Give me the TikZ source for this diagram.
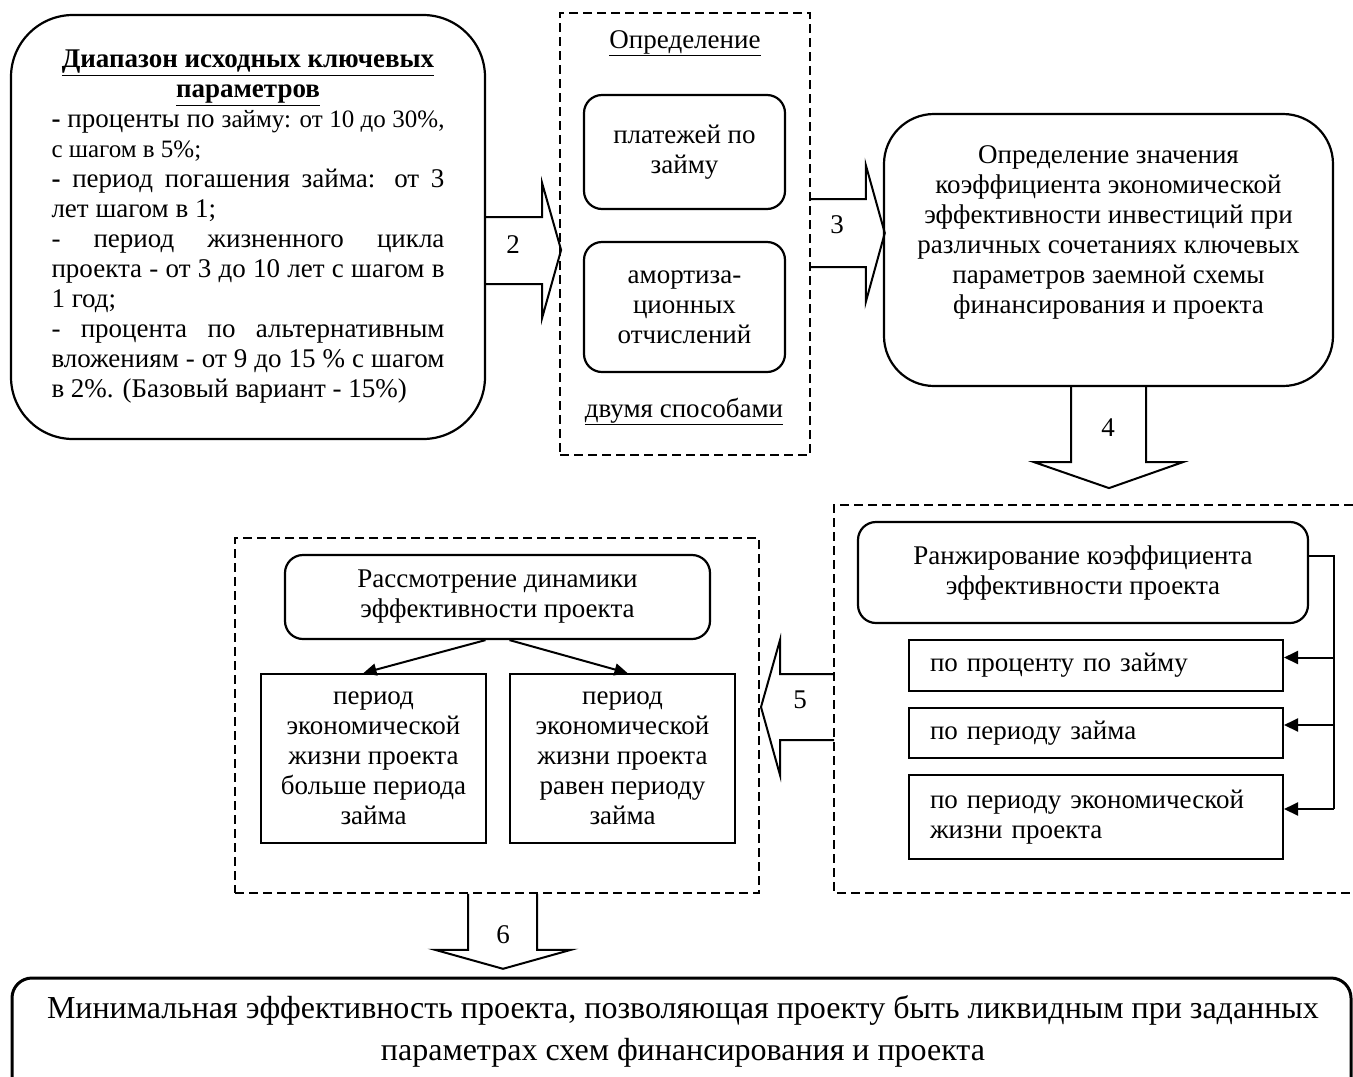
\documentclass[tikz,border=0pt]{standalone}
\usepackage{fontspec}
\setmainfont{Liberation Serif}
\usetikzlibrary{arrows.meta}

\newcommand{\fullline}[1]{\hbox to\linewidth{#1}}
\newcommand{\smallpart}[1]{{\fontsize{25}{30}\selectfont #1}}

\begin{document}
\begin{tikzpicture}[x=1pt, y=-1pt,
    % Define the styles for boxes, frames and arrows
    every node/.style={font=\fontsize{27}{30}\selectfont},
    roundbox/.style={draw, line width=2.2pt, rounded corners=18pt, inner sep=0pt},
    plainbox/.style={draw, line width=2pt, inner sep=0pt},
    dashframe/.style={draw, line width=1.6pt, dash pattern=on 9pt off 5pt},
    blockarrow/.style={draw, line width=2pt, line join=miter},
    wire/.style={line width=2pt},
    numlabel/.style={inner sep=0pt}
]
\useasboundingbox (0,0) rectangle (1353,1077);

% Range of key parameters
\node[roundbox, rounded corners=62pt, minimum width=474pt, minimum height=424pt,
      text width=393pt, align=justify] (params) at (248,227) {%
  {\centering\bfseries\underline{Диапазон исходных ключевых}\\\underline{параметров}\par}
  \fullline{\textbf{-} проценты по \smallpart{займу: от 10 до 30\%,}}
  \hbox{\smallpart{с шагом в 5\%;}}
  \fullline{\textbf{-} период погашения займа: от 3}
  \hbox{лет шагом в 1;}
  \fullline{- период жизненного цикла}
  \fullline{проекта - от 3 до 10 лет с шагом в}
  \hbox{1 год;}
  \fullline{- процента по альтернативным}
  \fullline{вложениям - от 9 до 15 \% с шагом}
  \hbox{в 2\%. (Базовый вариант - 15\%)}};

% Two ways of determination
\node[dashframe, minimum width=250pt, minimum height=442pt] (methods) at (685,234) {};
\node[anchor=base] (methodstitle) at (685,48) {\underline{Определение}};
\node[roundbox, minimum width=201pt, minimum height=114pt, align=center] (payments) at (684.5,152) {платежей по\\займу};
\node[roundbox, minimum width=201pt, minimum height=130pt, align=center] (deprec) at (684.5,307) {амортиза-\\ционных\\отчислений};
\node[anchor=base] (methodsnote) at (684,417) {\underline{двумя способами}};

% Coefficient of efficiency
\node[roundbox, rounded corners=50pt, minimum width=449pt, minimum height=272pt] (coef) at (1108.5,250) {};
\node[align=center] (coeftext) at (1108.5,232) {Определение значения\\коэффициента экономической\\эффективности инвестиций при\\различных сочетаниях ключевых\\параметров заемной схемы\\финансирования и проекта};

% Ranking
\draw[dashframe] (1353,505) -| (834,893) -- (1353,893);
\coordinate (rankframe) at (834,707);
\node[roundbox, minimum width=450pt, minimum height=101pt, align=center] (rank) at (1083,572.5) {Ранжирование коэффициента\\эффективности проекта};
\node[plainbox, minimum width=374pt, minimum height=51pt, text width=332pt, inner xsep=21pt, align=left] (crit1) at (1096,665.5) {по проценту по займу};
\node[plainbox, minimum width=374pt, minimum height=50pt, text width=332pt, inner xsep=21pt, align=left] (crit2) at (1096,733) {по периоду займа};
\node[plainbox, minimum width=374pt, minimum height=84pt, text width=332pt, inner xsep=21pt, align=left] (crit3) at (1096,817) {по периоду экономической\\жизни проекта};

\draw[wire] ([yshift=17pt]rank.east) -| ([xshift=50pt, yshift=8pt]crit3.east);
\foreach \crit in {crit1, crit2, crit3}
    \draw[wire, -{Triangle[length=14pt, width=13pt]}] ([xshift=50pt, yshift=8pt]\crit.east) -- ([yshift=8pt]\crit.east);

% Dynamics of efficiency
\node[dashframe, minimum width=524pt, minimum height=355pt] (dynframe) at (497,715.5) {};
\node[roundbox, minimum width=425pt, minimum height=84pt, align=center] (dyn) at (497.5,597) {Рассмотрение динамики\\эффективности проекта};
\node[plainbox, minimum width=225pt, minimum height=169pt, align=center] (longer) at (373.5,758.5) {период\\экономической\\жизни проекта\\больше периода\\займа};
\node[plainbox, minimum width=225pt, minimum height=169pt, align=center] (equal) at (622.5,758.5) {период\\экономической\\жизни проекта\\равен периоду\\займа};

\draw[wire, -{Triangle[length=13pt, width=12pt]}] ([xshift=-12pt]dyn.south) -- ([xshift=-10pt]longer.north);
\draw[wire, -{Triangle[length=13pt, width=12pt]}] ([xshift=12pt]dyn.south) -- ([xshift=5pt]equal.north);

% Block arrows with their numbers
\draw[blockarrow] (params.east) ++(0,-10) -- ++(56,0) -- ++(0,-34) -- ++(19,67) -- ++(-19,68) -- ++(0,-34) -- ++(-56,0);
\node[numlabel] (num2) at (513,245) {2};
\draw[blockarrow] (methods.east) ++(0,-35) -- ++(55,0) -- ++(0,-34) -- ++(19,68) -- ++(-19,69) -- ++(0,-35) -- ++(-55,0);
\node[numlabel] (num3) at (837,225) {3};
\draw[blockarrow] (coef.south) ++(-37.5,0) -- ++(0,75) -- ++(-37,0) -- ++(75,26) -- ++(74,-26) -- ++(-37,0) -- ++(0,-75);
\node[numlabel] (num4) at (1108,428) {4};
\draw[blockarrow] (rankframe) ++(0,-33) -- ++(-54,0) -- ++(0,-34) -- ++(-19,67) -- ++(19,68) -- ++(0,-35) -- ++(54,0);
\node[numlabel] (num5) at (800,700) {5};
\draw[blockarrow] (dynframe.south) ++(-29,0) -- ++(0,56) -- ++(-33,0) -- ++(68,19) -- ++(68,-19) -- ++(-34,0) -- ++(0,-56);
\node[numlabel] (num6) at (503,935) {6};

% Result
\draw[line width=3pt, rounded corners=20pt] (12,1077) |- (1351,978) -- (1351,1077);
\node[align=center, font=\fontsize{32}{42}\selectfont] (result) at (683,1031) {Минимальная эффективность проекта, позволяющая проекту быть ликвидным при заданных\\параметрах схем финансирования и проекта};

\end{tikzpicture}
\end{document}
